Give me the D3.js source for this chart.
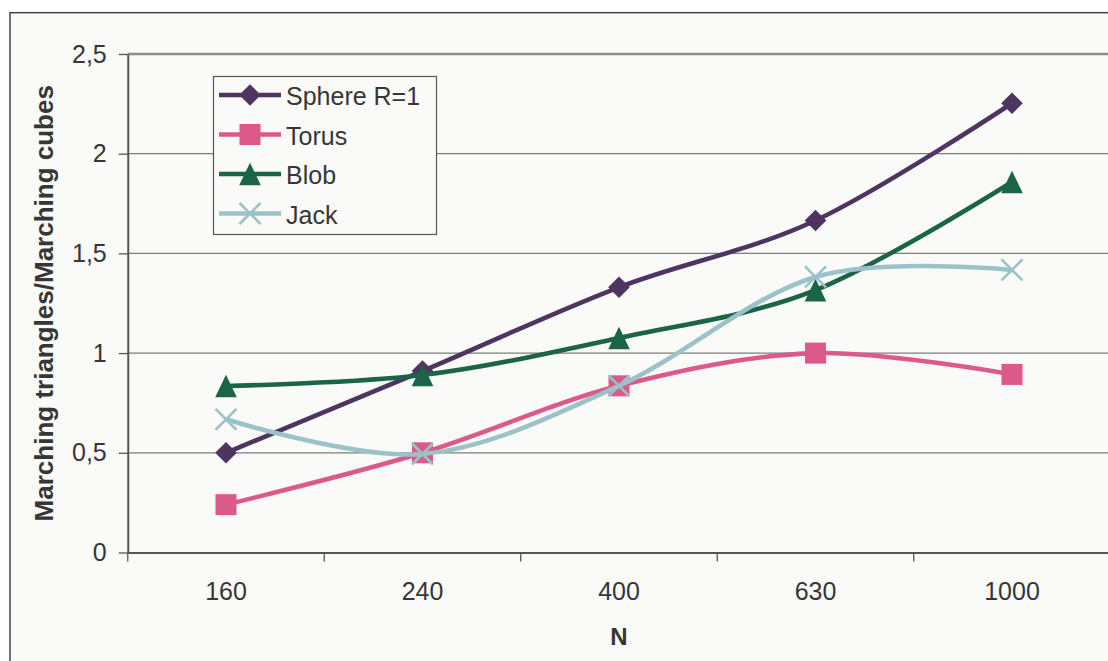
<!DOCTYPE html>
<html>
<head>
<meta charset="utf-8">
<script src="https://cdn.jsdelivr.net/npm/d3@7"></script>
<style>
  html, body { margin: 0; padding: 0; background: #ffffff; }
  svg { display: block; }
  text { font-family: "Liberation Sans", Arial, sans-serif; fill: #363636; }
</style>
</head>
<body>
<svg id="chart" width="1108" height="661"></svg>
<script>
// Grid sizes N along the horizontal axis
const categories = ["160", "240", "400", "630", "1000"];

// Time ratio marching triangles / marching cubes, per surface
const sphere = [0.50, 0.91, 1.33, 1.665, 2.253];
const torus  = [0.24, 0.50, 0.836, 1.00, 0.893];
const blob   = [0.835, 0.89, 1.076, 1.316, 1.858];
const jack   = [0.668, 0.494, 0.836, 1.382, 1.417];

const seriesNames = ["Sphere R=1", "Torus", "Blob", "Jack"];
const yTicks = [0, 0.5, 1, 1.5, 2, 2.5];

const series = [
  { name: seriesNames[0], values: sphere, color: "#4e3461", marker: "diamond" },
  { name: seriesNames[1], values: torus,  color: "#dc5a8a", marker: "square" },
  { name: seriesNames[2], values: blob,   color: "#1b6446", marker: "triangle" },
  { name: seriesNames[3], values: jack,   color: "#9bc2c7", marker: "cross" }
];

const svg = d3.select("#chart");

// chart frame
svg.append("rect")
  .attr("x", 10).attr("y", 12.7)
  .attr("width", 1120).attr("height", 670)
  .attr("fill", "#fafaf8")
  .attr("stroke", "#454545").attr("stroke-width", 1.5);

const plot = { left: 127.75, right: 1110.25, top: 54, bottom: 552.5 };

const x = d3.scaleBand().domain(categories).range([plot.left, plot.right]).padding(0);
const y = d3.scaleLinear().domain([0, 2.5]).range([plot.bottom, plot.top]);
const cx = d => x(d) + x.bandwidth() / 2;

// horizontal gridlines
svg.append("g").selectAll("line")
  .data(yTicks.filter(v => v > 0))
  .join("line")
  .attr("x1", plot.left).attr("x2", 1108)
  .attr("y1", d => y(d)).attr("y2", d => y(d))
  .attr("stroke", d => d === 2.5 ? "#8e8c88" : "#7c7c7c")
  .attr("stroke-width", d => d === 2.5 ? 2.6 : 1.3);

// y axis
const fmt = v => d3.format(".1~f")(v).replace(".", ",");
const yAxis = svg.append("g")
  .attr("transform", `translate(${plot.left},0)`)
  .call(d3.axisLeft(y).tickValues(yTicks).tickFormat(fmt).tickSize(9).tickPadding(12).tickSizeOuter(0));
yAxis.select(".domain").attr("stroke", "#555").attr("stroke-width", 2);
yAxis.selectAll(".tick line").attr("stroke", "#555").attr("stroke-width", 1.3);
yAxis.selectAll(".tick text")
  .attr("font-size", 25).attr("fill", "#363636")
  .style("font-family", "'Liberation Sans', Arial, sans-serif");

// x axis: labels centred in each category, ticks on category boundaries
const xAxis = svg.append("g")
  .attr("transform", `translate(0,${plot.bottom})`)
  .call(d3.axisBottom(x).tickSize(0).tickPadding(30).tickSizeOuter(0));
xAxis.select(".domain").attr("stroke", "#555").attr("stroke-width", 2.2);
xAxis.selectAll(".tick text")
  .attr("font-size", 25).attr("fill", "#363636")
  .style("font-family", "'Liberation Sans', Arial, sans-serif");

svg.append("g").selectAll("line")
  .data(categories)
  .join("line")
  .attr("x1", d => x(d)).attr("x2", d => x(d))
  .attr("y1", plot.bottom).attr("y2", plot.bottom + 9)
  .attr("stroke", "#555").attr("stroke-width", 1.3);

// axis titles
svg.append("text")
  .attr("transform", `translate(53,${(plot.top + plot.bottom) / 2}) rotate(-90)`)
  .attr("text-anchor", "middle")
  .attr("font-size", 26).attr("font-weight", "bold")
  .text("Marching triangles/Marching cubes");

svg.append("text")
  .attr("x", (plot.left + plot.right) / 2).attr("y", 645)
  .attr("text-anchor", "middle")
  .attr("font-size", 24).attr("font-weight", "bold")
  .text("N");

// marker shapes, centred on (0,0)
function drawMarker(g, type, color) {
  if (type === "diamond") {
    g.append("path").attr("d", "M0,-10.8L10.8,0L0,10.8L-10.8,0Z").attr("fill", color);
  } else if (type === "square") {
    g.append("rect").attr("x", -10.5).attr("y", -10.5).attr("width", 21).attr("height", 21).attr("fill", color);
  } else if (type === "triangle") {
    g.append("path").attr("d", "M0,-11.3L10.8,11.3L-10.8,11.3Z").attr("fill", color);
  } else if (type === "cross") {
    g.append("path").attr("d", "M-10.5,-10.5L10.5,10.5M-10.5,10.5L10.5,-10.5")
      .attr("stroke", color).attr("stroke-width", 2.6).attr("fill", "none");
  }
}

const line = d3.line()
  .x((d, i) => cx(categories[i]))
  .y(d => y(d))
  .curve(d3.curveCardinal.tension(0));

series.forEach(s => {
  const g = svg.append("g");
  g.append("path")
    .attr("d", line(s.values))
    .attr("fill", "none")
    .attr("stroke", s.color)
    .attr("stroke-width", 4.6)
    .attr("stroke-linejoin", "round");
  s.values.forEach((v, i) => {
    const m = g.append("g").attr("transform", `translate(${cx(categories[i])},${y(v)})`);
    drawMarker(m, s.marker, s.color);
  });
});

// legend
const legend = svg.append("g");
legend.append("rect")
  .attr("x", 213.5).attr("y", 76.5).attr("width", 223).attr("height", 158)
  .attr("fill", "#fafaf8").attr("stroke", "#555").attr("stroke-width", 1.2);

series.forEach((s, i) => {
  const ly = 95 + i * 39.5;
  const row = legend.append("g");
  row.append("line")
    .attr("x1", 219).attr("x2", 281).attr("y1", ly).attr("y2", ly)
    .attr("stroke", s.color).attr("stroke-width", 4.6);
  const m = row.append("g").attr("transform", `translate(250,${ly})`);
  drawMarker(m, s.marker, s.color);
  row.append("text")
    .attr("x", 286).attr("y", ly + 10)
    .attr("font-size", 25)
    .text(s.name);
});
</script>
</body>
</html>
